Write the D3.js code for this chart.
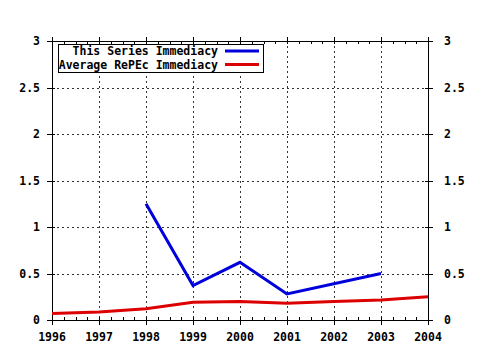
<!DOCTYPE html>
<html>
<head>
<meta charset="utf-8">
<script src="https://cdn.jsdelivr.net/npm/d3@7"></script>
<style>
  body { margin: 0; background: #fff; }
  svg text { font-family: "DejaVu Sans Mono", monospace; font-weight: bold; font-size: 11.5px; }
</style>
</head>
<body>
<svg id="chart" width="480" height="350"></svg>
<script>
// data
const years = [1996, 1997, 1998, 1999, 2000, 2001, 2002, 2003, 2004]
const seriesYears = [1998, 1999, 2000, 2001, 2003]
const seriesValues = [1.25, 0.37, 0.62, 0.28, 0.50]
const repecYears = [1996, 1997, 1998, 1999, 2000, 2001, 2002, 2003, 2004]
const repecValues = [0.07, 0.085, 0.12, 0.19, 0.20, 0.18, 0.20, 0.215, 0.25]
const yTicks = [0, 0.5, 1, 1.5, 2, 2.5, 3]
const legendLabels = ['This Series Immediacy', 'Average RePEc Immediacy']
const legendColors = ['#0000dd', '#dd0000']

const svg = d3.select('#chart')
const plotLeft = 52, plotRight = 428, plotTop = 41, plotBottom = 320

const x = d3.scaleLinear().domain([1996, 2004]).range([plotLeft, plotRight])
const y = d3.scaleLinear().domain([0, 3]).range([plotBottom, plotTop])

// Grid
svg.selectAll('.vgrid').data(years.slice(1, -1)).enter().append('line')
    .attr('x1', d=>Math.round(x(d)) + 0.5).attr('x2', d=>Math.round(x(d)) + 0.5)
    .attr('y1', plotTop).attr('y2', plotBottom)
    .attr('stroke', '#333').attr('stroke-dasharray', '2,3')
svg.selectAll('.hgrid').data(yTicks.slice(1, -1)).enter().append('line')
    .attr('x1', plotLeft).attr('x2', plotRight)
    .attr('y1', d=>Math.round(y(d)) + 0.5).attr('y2', d=>Math.round(y(d)) + 0.5)
    .attr('stroke', '#333').attr('stroke-dasharray', '2,3')

// Frame
const axisLine = (x1, y1, x2, y2) => svg.append('line')
    .attr('x1', x1).attr('y1', y1).attr('x2', x2).attr('y2', y2)
    .attr('stroke', '#000').attr('stroke-width', 1)
axisLine(plotLeft, plotTop + 0.5, plotRight, plotTop + 0.5)
axisLine(plotLeft, plotBottom + 0.5, plotRight, plotBottom + 0.5)
axisLine(plotLeft + 0.5, plotTop, plotLeft + 0.5, plotBottom + 5)
axisLine(plotRight + 0.5, plotTop, plotRight + 0.5, plotBottom + 5)

// Minor x ticks (quarter years)
const minor = d3.range(1996, 2004.01, 0.25)
minor.forEach(v => {
    const xx = Math.round(x(v)) + 0.5
    axisLine(xx, plotBottom - 3, xx, plotBottom)
    axisLine(xx, plotTop, xx, plotTop + 3)
})
years.forEach(v => {
    const xx = Math.round(x(v)) + 0.5
    axisLine(xx, plotBottom, xx, plotBottom + 5)
    axisLine(xx, plotTop - 4, xx, plotTop)
})
yTicks.forEach(v => {
    const yy = Math.round(y(v)) + 0.5
    axisLine(plotLeft - 5, yy, plotLeft + 3, yy)
    axisLine(plotRight - 3, yy, plotRight + 5, yy)
})

// Tick labels
svg.selectAll('.xlab').data(years).enter().append('text')
    .attr('x', d=>x(d)).attr('y', 341)
    .attr('text-anchor', 'middle')
    .text(d=>d)
const fmt = d => String(d)
svg.selectAll('.ylabL').data(yTicks).enter().append('text')
    .attr('x', 40).attr('y', d=>y(d) + 4)
    .attr('text-anchor', 'end')
    .text(fmt)
svg.selectAll('.ylabR').data(yTicks).enter().append('text')
    .attr('x', 444).attr('y', d=>y(d) + 4)
    .attr('text-anchor', 'start')
    .text(fmt)

// Lines
const line = d3.line().x(d=>x(d[0])).y(d=>y(d[1]))
svg.append('path')
    .datum(repecYears.map((d, i) => [d, repecValues[i]]))
    .attr('d', line).attr('fill', 'none')
    .attr('stroke', legendColors[1]).attr('stroke-width', 3)
svg.append('path')
    .datum(seriesYears.map((d, i) => [d, seriesValues[i]]))
    .attr('d', line).attr('fill', 'none')
    .attr('stroke', legendColors[0]).attr('stroke-width', 3)

// Legend
svg.append('rect')
    .attr('x', 58.5).attr('y', 44.5).attr('width', 205).attr('height', 28)
    .attr('fill', '#fff').attr('stroke', '#000')
legendLabels.forEach((lab, i) => {
    const ly = 51 + i * 13.5
    svg.append('text')
        .attr('x', 218).attr('y', ly + 4)
        .attr('text-anchor', 'end')
        .text(lab)
    svg.append('line')
        .attr('x1', 225).attr('x2', 259)
        .attr('y1', ly).attr('y2', ly)
        .attr('stroke', legendColors[i]).attr('stroke-width', 3)
})
</script>
</body>
</html>
